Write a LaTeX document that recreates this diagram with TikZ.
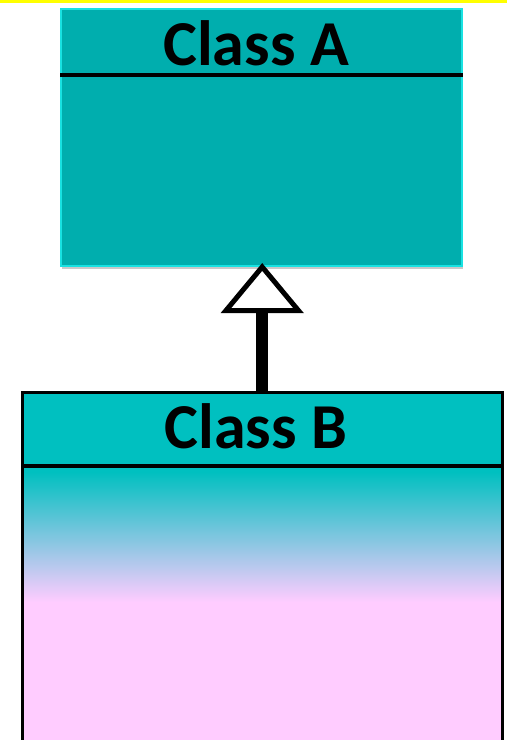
\documentclass[tikz,border=0pt]{standalone}
\usepackage{fontspec}
\setmainfont{Carlito}
\usetikzlibrary{arrows.meta, positioning, shadows}
\definecolor{classteal}{RGB}{0,174,174}
\definecolor{classcyan}{RGB}{0,192,192}
\definecolor{classedge}{RGB}{24,226,226}
\definecolor{classpink}{RGB}{255,204,255}
\definecolor{topyellow}{RGB}{255,255,0}

\begin{document}
\begin{tikzpicture}[x=1pt, y=-1pt,
        classbox/.style={rectangle, anchor=north west, inner sep=0pt},
        title/.style={font=\fontsize{64}{64}\selectfont\bfseries, anchor=base, inner sep=0pt},
        sepline/.style={line width=3.5pt, black},
        inherit/.style={line width=12pt, black, shorten >=-4pt, -{Triangle[length=50pt, width=82pt, line width=5pt, fill=white]}}
    ]
        \useasboundingbox (0,0) rectangle (507,740);
        \clip (0,0) rectangle (507,740);
        \fill[topyellow] (0,0) rectangle (507,3);

        % Class A
        \node[classbox, draw=classedge, line width=2pt, fill=classteal, minimum width=401pt, minimum height=257pt,
              drop shadow={shadow xshift=1pt, shadow yshift=-3pt, opacity=0.3, fill=black!70}] (classA) at (60,8) {};
        \draw[sepline] ([yshift=-67pt]classA.north west) -- ([yshift=-67pt]classA.north east);
        \node[title] (titleA) at (256,65) {Class A};

        % Class B
        \node[classbox, fill=classcyan, minimum width=480pt, minimum height=380pt] (classB) at (22,392) {};
        \shade[top color=classcyan, bottom color=classpink] ([yshift=-80pt]classB.north west) rectangle ([yshift=-210pt]classB.north east);
        \fill[classpink] ([yshift=-210pt]classB.north west) rectangle (classB.south east);
        \draw[line width=3pt] (classB.south west) rectangle (classB.north east);
        \draw[sepline] ([yshift=-74pt]classB.north west) -- ([yshift=-74pt]classB.north east);
        \node[title] (titleB) at (256,448) {Class B};

        \draw[inherit] (classB.north) -- (classB.north |- classA.south);
    \end{tikzpicture}
\end{document}
